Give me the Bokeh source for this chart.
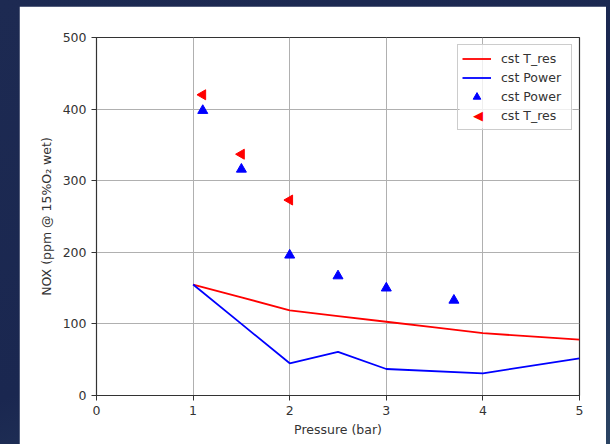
import math
from bokeh.plotting import figure
from bokeh.models import Legend, LegendItem, Range1d, FixedTicker, Column, Label, BoxAnnotation
from bokeh.embed import file_html
from bokeh.resources import INLINE

# Data
line_x = [1, 1.5, 2, 2.5, 3, 3.5, 4, 5]
tres_line = [155, 137, 119, 111, 103, 95, 87, 78]
power_line_x = [1, 1.5, 2, 2.5, 3, 4, 5]
power_line = [155, 100, 45, 61, 37, 31, 52]
power_pts_x = [1.1, 1.5, 2.0, 2.5, 3.0, 3.7]
power_pts_y = [398, 316, 196, 167, 150, 133]
tres_pts_x = [1.1, 1.5, 2.0]
tres_pts_y = [420, 337, 273]
x_ticks = [0, 1, 2, 3, 4, 5]
y_ticks = [0, 100, 200, 300, 400, 500]
legend_labels = ["cst T_res", "cst Power", "cst Power", "cst T_res"]

FONT = "DejaVu Sans"
FS = "12.5px"
X0, X1, Y0, Y1 = 0, 5, 0, 500
FW, FH = 483, 358

p = figure(width=587, height=438, output_backend="svg", toolbar_location=None,
           x_range=Range1d(X0, X1), y_range=Range1d(Y0, Y1),
           frame_width=FW, frame_height=FH,
           min_border_left=77, min_border_right=27, min_border_top=31, min_border_bottom=49)
p.margin = (6, 0, 0, 19)
p.background_fill_color = "white"
p.border_fill_color = "white"
p.outline_line_color = "#333333"
p.outline_line_width = 1.2

for ax in (p.xaxis[0], p.yaxis[0]):
    ax.axis_line_color = "#333333"
    ax.major_tick_line_color = "#333333"
    ax.major_tick_out = 5
    ax.major_tick_in = 0
    ax.minor_tick_line_color = None
    ax.major_label_text_font = FONT
    ax.major_label_text_font_size = FS
    ax.major_label_text_color = "#333333"
    ax.axis_label_text_font = FONT
    ax.axis_label_text_font_size = FS
    ax.axis_label_text_font_style = "normal"
    ax.axis_label_text_color = "#333333"

p.xaxis.ticker = FixedTicker(ticks=x_ticks)
p.yaxis.ticker = FixedTicker(ticks=y_ticks)
p.xaxis.axis_label = "Pressure (bar)"
p.yaxis.axis_label = "NOX (ppm @ 15%O\u2082 wet)"
p.xaxis.axis_label_standoff = 4
p.yaxis.axis_label_standoff = 6

p.xgrid.grid_line_color = "#b0b0b0"
p.ygrid.grid_line_color = "#b0b0b0"

r1 = p.line(line_x, tres_line, line_color="red", line_width=1.8)
r2 = p.line(power_line_x, power_line, line_color="blue", line_width=1.8)
r3 = p.scatter(power_pts_x, power_pts_y, marker="triangle", size=10,
               fill_color="blue", line_color="blue")
r4 = p.scatter(tres_pts_x, tres_pts_y, marker="triangle", size=10, angle=math.pi / 2,
               fill_color="red", line_color="red")
# invisible stand-in for the legend entry of the left-pointing triangles
r4_leg = p.scatter([], [], marker="triangle", size=10, fill_alpha=0, line_alpha=0)

PAD, ROW, GW, MARGIN, STANDOFF, LW = 4, 19, 29, 7, 10, 66
xs = (X1 - X0) / FW
ys = (Y1 - Y0) / FH
legend_w = 2 * PAD + GW + STANDOFF + LW
legend_h = 2 * PAD + 4 * ROW

# translucent legend background (drawn separately so the icon below stays on top)
box_right = X1 - MARGIN * xs
box_top = Y1 - MARGIN * ys
p.add_layout(BoxAnnotation(left=box_right - legend_w * xs, right=box_right,
                           top=box_top, bottom=box_top - legend_h * ys,
                           fill_color="white", fill_alpha=0.8, line_color=None,
                           level="annotation"))

legend = Legend(items=[
    LegendItem(label=legend_labels[0], renderers=[r1]),
    LegendItem(label=legend_labels[1], renderers=[r2]),
    LegendItem(label=legend_labels[2], renderers=[r3]),
    LegendItem(label=legend_labels[3], renderers=[r4_leg]),
], location="top_right")
legend.label_text_font = FONT
legend.label_text_font_size = FS
legend.label_text_color = "#333333"
legend.border_line_color = "#cccccc"
legend.border_line_alpha = 1
legend.background_fill_alpha = 0
legend.spacing = 0
legend.padding = PAD
legend.margin = MARGIN
legend.glyph_width = GW
legend.glyph_height = ROW
legend.label_height = ROW
legend.label_standoff = STANDOFF
legend.label_width = LW
p.add_layout(legend)

# left-pointing triangle icon for the 4th legend row (legend markers cannot be rotated)
icon_x = box_right - (legend_w - PAD - GW / 2) * xs
icon_y = box_top - (PAD + 3.5 * ROW) * ys
p.add_layout(Label(x=icon_x, y=icon_y, text="\u25c0", text_color="red",
                   text_font=FONT, text_font_size="13px", level="overlay",
                   text_align="center", text_baseline="middle"))

layout = Column(children=[p], width=610, height=444,
                styles={"background": "linear-gradient(160deg, #1d2a52 0%, #1a2750 60%, #2b4463 100%)"})

open("out.html", "w").write(file_html(layout, INLINE))
